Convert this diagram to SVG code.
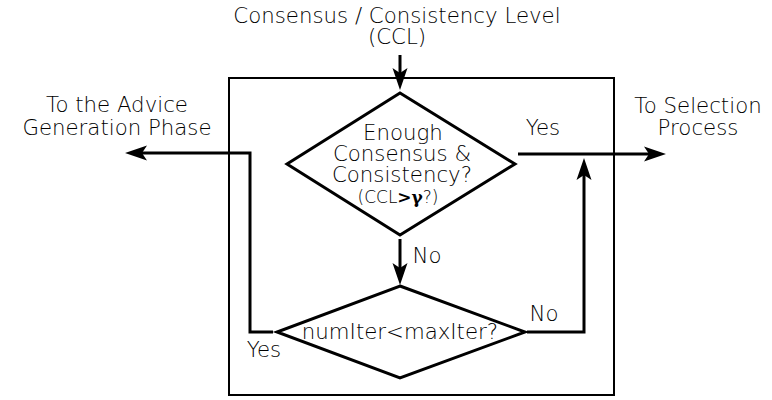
<svg xmlns="http://www.w3.org/2000/svg" width="772" height="400" viewBox="0 0 772 400">
<style>
text{font-family:"DejaVu Sans","Liberation Sans",sans-serif;font-size:21.3px;font-weight:200;fill:#000;text-anchor:middle}
.small{font-size:17px}
.box{fill:none;stroke:#000;stroke-width:2}
.dia{fill:#fff;stroke:#000;stroke-width:3;stroke-linejoin:miter}
.con{fill:none;stroke:#000;stroke-width:3}
</style>
<defs>
<marker id="ah" markerUnits="userSpaceOnUse" markerWidth="24" markerHeight="18" viewBox="0 -9 24 18" refX="5" refY="0" orient="auto">
<path d="M0,-7.5 L22,0 L0,7.5 L5,0 Z" fill="#000"/>
</marker>
</defs>
<rect id="frame" class="box" x="229" y="78" width="385" height="317"/>
<g id="title">
<text x="397" y="23">Consensus / Consistency Level</text>
<text x="397" y="44">(CCL)</text>
</g>
<g id="connectors">
<path class="con" d="M400,55 V73" marker-end="url(#ah)"/>
<path class="con" d="M400,239 V268" marker-end="url(#ah)"/>
<path class="con" d="M518,154 H649" marker-end="url(#ah)"/>
<path class="con" d="M527,332 H584 V175" marker-end="url(#ah)"/>
<path class="con" d="M273,332 H250 V153 H142" marker-end="url(#ah)"/>
</g>
<g id="decision1">
<polygon class="dia" points="400,93 515,164 400,235 287,164"/>
<text x="403" y="140">Enough</text>
<text x="402" y="161">Consensus &amp;</text>
<text x="402" y="182">Consistency?</text>
<text class="small" x="398" y="203">(CCL<tspan font-family="DejaVu Serif, serif" font-weight="bold">&gt;γ</tspan>?)</text>
</g>
<g id="decision2">
<polygon class="dia" points="400,286 525,332 400,378 277,332"/>
<text x="400" y="339">numIter&lt;maxIter?</text>
</g>
<g id="labels">
<text x="543" y="135">Yes</text>
<text x="427" y="263">No</text>
<text x="544" y="321">No</text>
<text x="264" y="357">Yes</text>
<text x="698" y="113">To Selection</text>
<text x="698" y="135">Process</text>
<text x="117" y="112">To the Advice</text>
<text x="117" y="135">Generation Phase</text>
</g>
</svg>
